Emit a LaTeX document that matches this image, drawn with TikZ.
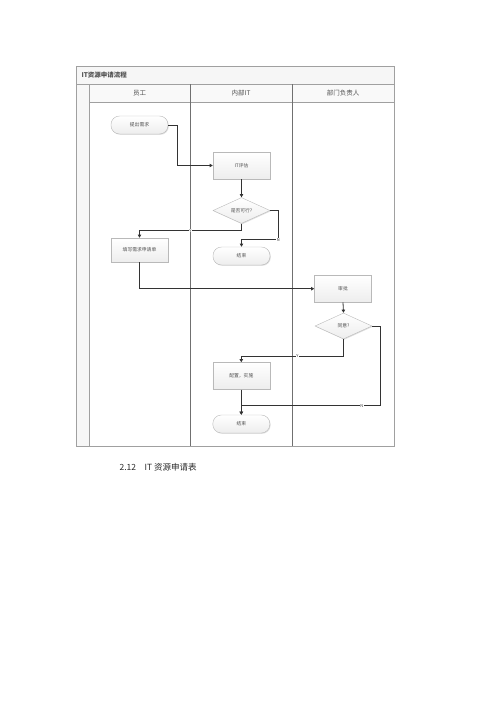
\documentclass[tikz,border=0pt]{standalone}
\usepackage{fontspec}
\setmainfont{Noto Sans CJK SC}
\usetikzlibrary{shapes.geometric,arrows.meta,shadows}
\definecolor{frame}{HTML}{A0A0A0}
\definecolor{lane}{HTML}{707070}
\definecolor{conn}{HTML}{333333}
\definecolor{txt}{HTML}{505050}
\tikzset{
  procbox/.style={draw=gray!55,top color=white,bottom color=gray!14,
    drop shadow={shadow xshift=0.8pt,shadow yshift=-0.8pt,opacity=0.25},
    minimum width=57pt,minimum height=27pt,inner sep=0pt,
    font=\fontsize{4.8}{5}\selectfont,text=txt},
  termbox/.style={procbox,rounded corners=8.5pt,minimum height=18pt},
  decbox/.style={procbox,diamond,aspect=2.2,minimum width=57pt,minimum height=26pt},
  arr/.style={draw=conn,line width=0.8pt,-{Triangle[length=3.2pt,width=3.4pt]}},
  lbl/.style={fill=white,inner sep=0.3pt,font=\fontsize{4}{4}\selectfont,text=conn},
  hdr/.style={font=\fontsize{6.5}{7}\selectfont,text=txt}
}
\begin{document}
\begin{tikzpicture}[x=1pt,y=-1pt]
\useasboundingbox (0,0) rectangle (500,707);
% frame
\fill[gray!7] (76,66) rectangle (394,84);
\fill[gray!5] (89,84) rectangle (394,102);
\fill[gray!6] (76,84) rectangle (89,446);
\draw[frame,line width=0.8pt] (76,66) rectangle (394,446);
\draw[frame,line width=0.8pt] (76,84) -- (394,84);
\draw[frame,line width=0.8pt] (89,102) -- (394,102);
\draw[frame,line width=0.8pt] (89,84) -- (89,446);
\draw[lane,line width=0.7pt] (190,84) -- (190,446);
\draw[lane,line width=0.7pt] (292,84) -- (292,446);
\node[anchor=west,font=\fontsize{6.5}{7}\selectfont\bfseries,text=txt] (title) at (78,75) {IT资源申请流程};
\node[hdr] (h1) at (139.5,93) {员工};
\node[hdr] (h2) at (241,93) {内部IT};
\node[hdr] (h3) at (343,93) {部门负责人};
% nodes
\node[termbox] (start) at (139.5,125) {提出需求};
\node[procbox] (itev) at (241.5,165.5) {IT评估};
\node[decbox] (d1) at (241.5,210.5) {是否可行?};
\node[procbox,minimum height=24pt] (fill) at (139.5,250) {填写需求申请单};
\node[termbox] (end1) at (241.5,256) {结束};
\node[procbox] (appr) at (343,288.7) {审批};
\node[decbox] (d2) at (343.5,326) {同意?};
\node[procbox] (cfg) at (241.3,376) {配置，实施};
\node[termbox] (end2) at (241.3,424) {结束};
% connectors
\draw[arr] (start.east) -- ++(9,0) |- (itev.west);
\draw[arr] (itev.south) -- (d1.north);
\draw[arr] (d1.south) -- ++(0,7) -| node[lbl,pos=0.25]{Y} (fill.north);
\draw[arr] (d1.east) -- ++(8,0) |- node[lbl,pos=0.5]{N} ([yshift=7pt]end1.north) -- (end1.north);
\draw[arr] (fill.south) |- (appr.west);
\draw[arr] (appr.south) -- (d2.north);
\draw[arr] (d2.south) -- ++(0,17) -| node[lbl,pos=0.225]{Y} (cfg.north);
\draw[arr] (d2.east) -- ++(8,0) |- node[lbl,pos=0.566]{N} ([yshift=9pt]end2.north) -- (end2.north);
\draw[arr] (cfg.south) -- (end2.north);
% caption
\node[anchor=west,font=\fontsize{8.5}{10}\selectfont,text=black!85] (cap) at (116,467) {2.12\quad IT 资源申请表};
\end{tikzpicture}
\end{document}
